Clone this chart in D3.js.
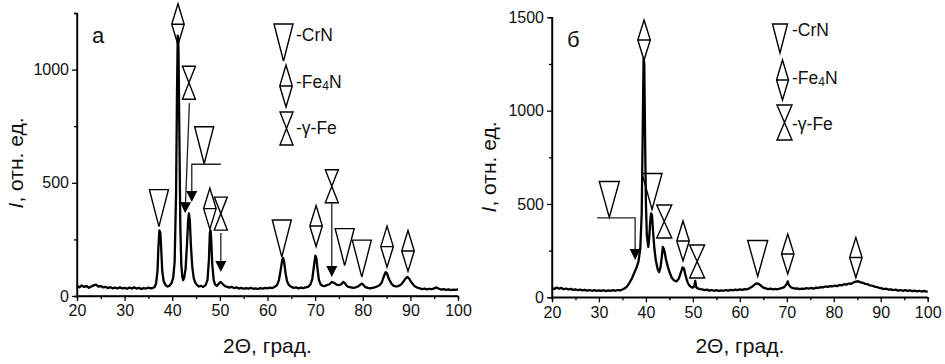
<!DOCTYPE html>
<html><head><meta charset="utf-8">
<script src="https://cdn.jsdelivr.net/npm/d3@7"></script>
<style>body{margin:0;background:#fff}svg{display:block}</style>
</head><body>
<svg id="c" width="945" height="364"></svg>
<script>
// ---------- DATA ----------
const xTicksMajor = [20,30,40,50,60,70,80,90,100];
const xTicksMinor = [25,35,45,55,65,75,85,95];
const yTicksMajorA = [0,500,1000];
const yTicksMinorA = [250,750,1250];
const yTicksMajorB = [0,500,1000,1500];
const yTicksMinorB = [250,750,1250];

// panel а : [2θ, I]
const curveA = [[20,45],[20.5,38],[21,47],[21.5,40],[22,44],[22.5,36],[23,42],[23.5,47],[24,50],[24.5,41],[25,44],[25.5,38],[26,40],[26.5,35],[27,39],[27.5,34],[28,37],[28.5,33],[29,38],[29.5,34],[30,36],[30.5,32],[31,37],[31.5,33],[32,38],[32.5,33],[33,36],[33.5,31],[34,35],[34.5,33],[35,37],[35.5,34],[36,36],[36.3,40],[36.6,55],[36.9,110],[37.1,220],[37.3,290],[37.5,280],[37.7,200],[37.9,110],[38.2,65],[38.6,48],[39,42],[39.4,45],[39.8,55],[40.2,80],[40.5,150],[40.8,450],[41.0,900],[41.15,1150],[41.3,1100],[41.5,700],[41.7,300],[41.9,140],[42.1,85],[42.3,70],[42.5,80],[42.8,120],[43.1,230],[43.35,340],[43.5,365],[43.7,330],[43.9,230],[44.2,130],[44.5,80],[44.8,60],[45.2,48],[45.6,42],[46,45],[46.5,40],[47,48],[47.4,70],[47.7,160],[47.9,280],[48.05,290],[48.2,240],[48.4,140],[48.7,70],[49,50],[49.4,45],[49.8,55],[50.1,62],[50.4,58],[50.8,48],[51.2,42],[51.6,40],[52,37],[52.5,40],[53,35],[53.5,38],[54,33],[54.5,36],[55,32],[55.5,35],[56,33],[56.5,36],[57,32],[57.5,34],[58,31],[58.5,35],[59,33],[59.5,36],[60,34],[60.5,37],[61,35],[61.5,40],[62,48],[62.4,70],[62.8,120],[63.1,160],[63.3,168],[63.5,150],[63.8,100],[64.1,65],[64.5,48],[65,40],[65.5,36],[66,38],[66.5,34],[67,37],[67.5,35],[68,38],[68.5,40],[69,50],[69.4,75],[69.8,140],[70.05,178],[70.25,170],[70.5,120],[70.8,70],[71.2,50],[71.6,45],[72,44],[72.5,48],[73,52],[73.5,62],[74,58],[74.5,50],[75,48],[75.5,52],[75.9,62],[76.2,58],[76.6,46],[77,40],[77.5,38],[78,36],[78.5,38],[79,42],[79.5,50],[79.8,55],[80.1,50],[80.5,40],[81,36],[81.5,34],[82,36],[82.5,38],[83,42],[83.5,48],[84,60],[84.4,85],[84.8,105],[85.1,100],[85.5,75],[86,55],[86.5,45],[87,42],[87.5,44],[88,50],[88.5,62],[89,78],[89.4,84],[89.8,75],[90.3,58],[90.8,45],[91.3,38],[92,34],[92.5,30],[93,33],[93.5,29],[94,32],[94.5,30],[95,34],[95.5,38],[96,32],[96.5,28],[97,30],[97.5,27],[98,29],[98.5,26],[99,28],[99.5,27],[100,29]];

// panel б : [2θ, I]
const curveB = [[20,50],[20.5,44],[21,52],[21.5,46],[22,50],[22.5,43],[23,47],[23.5,42],[24,45],[24.5,40],[25,43],[25.5,38],[26,41],[26.5,37],[27,40],[27.5,36],[28,39],[28.5,35],[29,38],[29.5,34],[30,37],[30.5,34],[31,38],[31.5,33],[32,37],[32.5,34],[33,38],[33.5,35],[34,39],[34.5,37],[35,42],[35.5,48],[36,58],[36.5,78],[37,100],[37.5,130],[38,160],[38.4,190],[38.8,260],[39.1,450],[39.3,850],[39.5,1280],[39.65,1250],[39.8,900],[40.0,500],[40.2,330],[40.5,270],[40.7,320],[40.9,400],[41.1,450],[41.3,440],[41.5,360],[41.8,260],[42.1,200],[42.5,150],[42.8,135],[43.1,160],[43.4,220],[43.6,270],[43.8,260],[44.0,240],[44.3,200],[44.7,160],[45.1,130],[45.5,105],[46,90],[46.5,85],[47,100],[47.4,130],[47.8,160],[48.1,155],[48.4,120],[48.8,85],[49.2,65],[49.6,55],[50,52],[50.3,60],[50.5,88],[50.7,55],[51,48],[51.5,44],[52,42],[52.5,38],[53,41],[53.5,36],[54,39],[54.5,35],[55,38],[55.5,34],[56,37],[56.5,35],[57,39],[57.5,36],[58,40],[58.5,37],[59,41],[59.5,38],[60,42],[60.5,40],[61,44],[61.5,42],[62,48],[62.5,55],[63,65],[63.5,75],[64,72],[64.5,62],[65,52],[65.5,48],[66,44],[66.5,46],[67,42],[67.5,45],[68,43],[68.5,47],[69,50],[69.5,56],[70,72],[70.2,85],[70.4,68],[70.8,55],[71.2,50],[71.7,46],[72.2,48],[72.7,44],[73.2,47],[73.7,45],[74.2,49],[74.7,47],[75.2,50],[75.7,46],[76.2,52],[76.7,50],[77.2,55],[77.7,53],[78.2,58],[78.7,56],[79.2,60],[79.7,58],[80.2,63],[80.7,60],[81.2,66],[81.7,64],[82.2,70],[82.7,68],[83.2,74],[83.7,72],[84.2,80],[84.7,84],[85.2,86],[85.7,80],[86.2,78],[86.7,72],[87.2,70],[87.7,64],[88.2,62],[88.7,57],[89.2,55],[89.7,50],[90.2,48],[90.7,44],[91.2,46],[91.7,41],[92.2,43],[92.7,38],[93.2,41],[93.7,36],[94.2,39],[94.7,35],[95.2,38],[95.7,34],[96.2,37],[96.7,33],[97.2,36],[97.7,32],[98.2,35],[98.7,31],[99.2,34],[99.7,30],[100,32]];

// phase markers: [phase, 2θ, I at marker centre]
const markersA = [["CrN",37.2,388],["Fe4N",41.2,1200],["gFe",43.5,942],["CrN",46.7,666],["Fe4N",47.9,386],["gFe",50.2,364],["CrN",63.0,254],["Fe4N",70.2,309],["gFe",73.5,485],["CrN",76.2,216],["CrN",79.8,165],["Fe4N",85.1,218],["Fe4N",89.5,199]];
const markersB = [["CrN",32.2,524],["Fe4N",39.6,1378],["CrN",41.3,567],["gFe",43.9,406],["Fe4N",47.9,302],["gFe",50.9,192],["CrN",63.8,208],["Fe4N",70.2,232],["Fe4N",84.7,213]];

// arrows: polyline [2θ, I], last point is the tip
const arrowsA = [[[43.6,852],[42.7,366]], [[50.2,582],[44.1,582],[44.1,415]], [[50.2,278],[50.2,106]], [[73.5,410],[73.5,84]]];
const arrowsB = [[[29.6,425],[37.7,425],[37.7,200]]];

const legendItems = [["CrN","-CrN"],["Fe4N","-Fe4N"],["gFe","-γ-Fe"]];

// ---------- DRAW ----------
const svg = d3.select("#c");
svg.append("rect").attr("width",945).attr("height",364).attr("fill","#fff");
const FONT = "Liberation Sans, Arial, sans-serif";

function shapePath(type, cx, cy, w, h){
  if(type==="CrN") return `M${cx-w/2},${cy-h/2}L${cx+w/2},${cy-h/2}L${cx},${cy+h/2}Z`;
  if(type==="Fe4N") return `M${cx},${cy-h/2}L${cx+w/2},${cy}L${cx},${cy+h/2}L${cx-w/2},${cy}ZM${cx-w/2},${cy}L${cx+w/2},${cy}`;
  return `M${cx-w/2},${cy-h/2}L${cx+w/2},${cy-h/2}L${cx-w/2},${cy+h/2}L${cx+w/2},${cy+h/2}Z`;
}

function panel(cfg){
  const g = svg.append("g");
  const x = d3.scaleLinear().domain([20,100]).range(cfg.xr);
  const y = d3.scaleLinear().domain([0,cfg.ymax]).range(cfg.yr);
  // curve
  g.append("path").datum(cfg.curve)
    .attr("d", d3.line().x(d=>x(d[0])).y(d=>y(d[1])))
    .attr("fill","none").attr("stroke","#000").attr("stroke-width",2.3).attr("stroke-linejoin","round");
  // axes
  const ax = g.append("g").attr("transform",`translate(0,${cfg.yr[0]})`)
    .call(d3.axisBottom(x).tickValues(xTicksMajor).tickSize(5).tickPadding(4).tickFormat(d3.format("d")));
  g.append("g").attr("transform",`translate(0,${cfg.yr[0]})`)
    .call(d3.axisBottom(x).tickValues(xTicksMinor).tickSize(3).tickFormat(""));
  const ay = g.append("g").attr("transform",`translate(${cfg.xr[0]},0)`)
    .call(d3.axisLeft(y).tickValues(cfg.yMajor).tickSize(5).tickPadding(3).tickFormat(d3.format("d")));
  g.append("g").attr("transform",`translate(${cfg.xr[0]},0)`)
    .call(d3.axisLeft(y).tickValues(cfg.yMinor).tickSize(3).tickFormat(""));
  g.selectAll(".domain").attr("stroke","#000").attr("stroke-width",1.4);
  g.selectAll(".tick line").attr("stroke","#000").attr("stroke-width",1.3);
  g.selectAll(".tick text").attr("font-family",FONT).attr("font-size",16).attr("fill","#111");
  ax.selectAll(".domain").attr("d",`M${cfg.xr[0]},0H${cfg.xr[1]}`);
  ay.selectAll(".domain").attr("d",`M0,${cfg.yr[0]}V${cfg.yr[1]}`);
  // markers
  cfg.markers.forEach(m=>{
    const s = cfg.sizes[m[0]];
    g.append("path").attr("d",shapePath(m[0],x(m[1]),y(m[2]),s[0],s[1]))
      .attr("fill","none").attr("stroke","#000").attr("stroke-width",1.4);
  });
  // arrows
  cfg.arrows.forEach(a=>{
    const pts = a.map(p=>[x(p[0]),y(p[1])]);
    const n = pts.length;
    const tip = pts[n-1], prev = pts[n-2];
    const dx = tip[0]-prev[0], dy = tip[1]-prev[1], L = Math.hypot(dx,dy);
    const ux = dx/L, uy = dy/L, hl = 11, hw = 5.5;
    const base = [tip[0]-ux*hl, tip[1]-uy*hl];
    const linePts = pts.slice(0,n-1).concat([base]);
    g.append("path").attr("d",d3.line()(linePts)).attr("fill","none").attr("stroke","#222").attr("stroke-width",1.3);
    g.append("path").attr("d",`M${tip[0]},${tip[1]}L${base[0]-uy*hw},${base[1]+ux*hw}L${base[0]+uy*hw},${base[1]-ux*hw}Z`).attr("fill","#000");
  });
  // legend
  legendItems.forEach((it,i)=>{
    const L = cfg.legend[i];
    g.append("path").attr("d",shapePath(it[0],L.cx,L.cy,L.w,L.h)).attr("fill","none").attr("stroke","#000").attr("stroke-width",1.4);
    const t = g.append("text").attr("x",L.tx).attr("y",L.ty).attr("font-family",FONT).attr("font-size",17.5).attr("fill","#111");
    if(it[0]==="Fe4N"){
      t.append("tspan").text("-Fe");
      t.append("tspan").attr("font-size",12).attr("dy",2).text("4");
      t.append("tspan").attr("dy",-2).text("N");
    } else t.text(it[1]);
  });
  // panel letter
  g.append("text").attr("x",cfg.letter[0]).attr("y",cfg.letter[1]).attr("font-family",FONT).attr("font-size",22).attr("fill","#111").text(cfg.letter[2]);
  // axis titles
  g.append("text").attr("x",(cfg.xr[0]+cfg.xr[1])/2).attr("y",353).attr("text-anchor","middle")
    .attr("font-family",FONT).attr("font-size",21).attr("fill","#111").text("2Θ, град.");
  const yt = g.append("text").attr("transform",`translate(${cfg.ylab[0]},${cfg.ylab[1]}) rotate(-90)`).attr("text-anchor","middle")
    .attr("font-family",FONT).attr("font-size",21).attr("fill","#111");
  yt.append("tspan").attr("font-style","italic").text("I");
  yt.append("tspan").text(", отн. ед.");
}

panel({xr:[77,458], yr:[296,13], ymax:1250, yMajor:yTicksMajorA, yMinor:yTicksMinorA, curve:curveA,
  markers:markersA, arrows:arrowsA,
  sizes:{CrN:[19,37],Fe4N:[12.5,41],gFe:[13,33]},
  legend:[{cx:283.5,cy:42.5,w:19,h:37,tx:296,ty:41},{cx:286,cy:86,w:12.5,h:42,tx:296,ty:88},{cx:286.5,cy:128.5,w:13,h:33,tx:296,ty:134}],
  letter:[92,43,"а"], ylab:[23,163]});

panel({xr:[552,927.7], yr:[297.3,17.3], ymax:1500, yMajor:yTicksMajorB, yMinor:yTicksMinorB, curve:curveB,
  markers:markersB, arrows:arrowsB,
  sizes:{CrN:[20,36],Fe4N:[12.5,40],gFe:[15,33]},
  legend:[{cx:780,cy:38.5,w:15,h:29,tx:792,ty:36},{cx:782.5,cy:80,w:12,h:40,tx:792,ty:83.5},{cx:784.5,cy:122.5,w:15,h:35,tx:792,ty:130}],
  letter:[567,47,"б"], ylab:[496,167]});
</script>
</body></html>
